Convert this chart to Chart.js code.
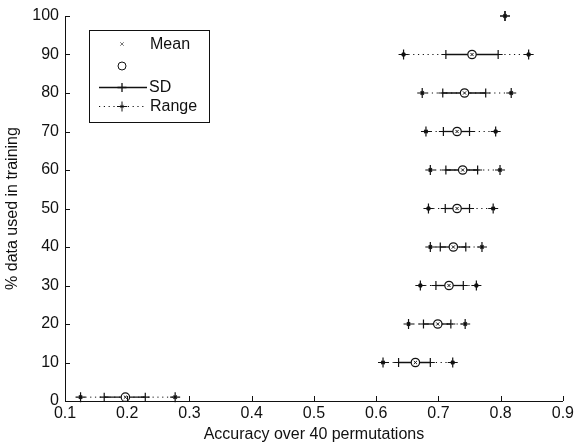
<!DOCTYPE html>
<html>
<head>
<meta charset="utf-8">
<script src="https://cdn.jsdelivr.net/npm/chart.js@4"></script>
<style>
  html, body { margin: 0; padding: 0; background: #fff; }
  #wrap { width: 577px; height: 447px; }
</style>
</head>
<body>
<div id="wrap"><canvas id="permPlot"></canvas></div>
<script>
// % of data used in training (y) and accuracy statistics over 40 permutations (x)
const pctTraining = [1, 10, 20, 30, 40, 50, 60, 70, 80, 90, 100]
const meanAcc  = [0.197, 0.663, 0.699, 0.717, 0.724, 0.730, 0.739, 0.730, 0.742, 0.754, null]
const sdLow    = [0.163, 0.636, 0.676, 0.696, 0.703, 0.711, 0.712, 0.708, 0.707, 0.712, null]
const sdHigh   = [0.229, 0.687, 0.720, 0.740, 0.744, 0.750, 0.763, 0.750, 0.776, 0.796, null]
const rangeMin = [0.125, 0.611, 0.652, 0.671, 0.687, 0.684, 0.687, 0.680, 0.674, 0.644, 0.807]
const rangeMax = [0.277, 0.723, 0.743, 0.761, 0.770, 0.788, 0.799, 0.792, 0.817, 0.845, 0.807]
const xTicks = [0.1, 0.2, 0.3, 0.4, 0.5, 0.6, 0.7, 0.8, 0.9]
const yTicks = [0, 10, 20, 30, 40, 50, 60, 70, 80, 90, 100]

const ink = '#111'
const fontFamily = '"Liberation Sans", Arial, Helvetica, sans-serif'

const datasets = []

// dotted range lines with star-ish ends
pctTraining.forEach((y, i) => {
    datasets.push({
        data: [{x: rangeMin[i], y: y}, {x: rangeMax[i], y: y}],
        borderColor: ink,
        borderWidth: 1,
        borderDash: [1.2, 3.6],
        pointStyle: 'cross',
        pointRadius: 5,
        pointBorderWidth: 1.2,
        pointBorderColor: ink,
        showLine: true,
        clip: false,
        order: 4
    })
})

// small dense x in the middle of the range markers
const rangeEnds = []
pctTraining.forEach((y, i) => {
    rangeEnds.push({x: rangeMin[i], y: y})
    if (rangeMax[i] != rangeMin[i]) rangeEnds.push({x: rangeMax[i], y: y})
})
datasets.push({
    data: rangeEnds,
    pointStyle: 'crossRot',
    pointRadius: 2.3,
    pointBorderWidth: 1.6,
    pointBorderColor: ink,
    showLine: false,
    clip: false,
    order: 3
})

// solid SD lines with + ends
pctTraining.forEach((y, i) => {
    if (meanAcc[i] == null) return
    datasets.push({
        data: [{x: sdLow[i], y: y}, {x: sdHigh[i], y: y}],
        borderColor: ink,
        borderWidth: 1.3,
        pointStyle: 'cross',
        pointRadius: 4.5,
        pointBorderWidth: 1.2,
        pointBorderColor: ink,
        showLine: true,
        clip: false,
        order: 2
    })
})

const meanPoints = pctTraining.map((y, i) => ({x: meanAcc[i], y: y})).filter(p => p.x != null)

datasets.push({
    data: meanPoints,
    pointStyle: 'circle',
    pointRadius: 4.2,
    pointBorderWidth: 1.2,
    pointBorderColor: ink,
    pointBackgroundColor: '#fff',
    showLine: false,
    clip: false,
    order: 1
})
datasets.push({
    data: meanPoints,
    pointStyle: 'crossRot',
    pointRadius: 2.2,
    pointBorderWidth: 1,
    pointBorderColor: ink,
    showLine: false,
    clip: false,
    order: 0
})

// MATLAB style ticks pointing into the plot area
const innerTicks = {
    id: 'innerTicks',
    afterDatasetsDraw(chart) {
        const ctx = chart.ctx
        const {x, y} = chart.scales
        const area = chart.chartArea
        ctx.save()
        ctx.strokeStyle = ink
        ctx.lineWidth = 1
        ctx.beginPath()
        xTicks.forEach(v => {
            const px = Math.round(x.getPixelForValue(v)) + 0.5
            ctx.moveTo(px, area.bottom)
            ctx.lineTo(px, area.bottom - 5)
        })
        yTicks.forEach(v => {
            const py = Math.round(y.getPixelForValue(v)) + 0.5
            ctx.moveTo(area.left, py)
            ctx.lineTo(area.left + 5, py)
        })
        ctx.stroke()
        ctx.restore()
    }
}

// legend box like the matlab one
const matLegend = {
    id: 'matLegend',
    afterDraw(chart) {
        const ctx = chart.ctx
        const drawPoint = Chart.helpers.drawPoint
        ctx.save()
        ctx.fillStyle = '#fff'
        ctx.fillRect(90, 31, 119, 91)
        ctx.strokeStyle = ink
        ctx.lineWidth = 1
        ctx.strokeRect(89.5, 30.5, 120, 92)

        ctx.font = '16px ' + fontFamily
        ctx.fillStyle = ink
        ctx.textBaseline = 'middle'
        const textX = 150
        const midX = 122

        ctx.strokeStyle = '#777'
        drawPoint(ctx, {pointStyle: 'crossRot', radius: 2.5, borderWidth: 1}, midX, 44)
        ctx.fillText('Mean', textX, 45)

        ctx.strokeStyle = ink
        ctx.fillStyle = '#fff'
        drawPoint(ctx, {pointStyle: 'circle', radius: 4, borderWidth: 1.3}, midX, 66)
        ctx.fillStyle = ink

        ctx.lineWidth = 1.3
        ctx.beginPath()
        ctx.moveTo(99, 87.5)
        ctx.lineTo(147, 87.5)
        ctx.stroke()
        drawPoint(ctx, {pointStyle: 'cross', radius: 4.5, borderWidth: 1.2}, midX, 87.5)
        ctx.fillText('SD', textX - 1, 88)

        ctx.lineWidth = 1
        ctx.setLineDash([1.2, 3.6])
        ctx.beginPath()
        ctx.moveTo(99, 106.5)
        ctx.lineTo(147, 106.5)
        ctx.stroke()
        ctx.setLineDash([])
        drawPoint(ctx, {pointStyle: 'cross', radius: 5, borderWidth: 1.2}, midX, 106.5)
        drawPoint(ctx, {pointStyle: 'crossRot', radius: 2.3, borderWidth: 1.6}, midX, 106.5)
        ctx.fillText('Range', textX, 107)
        ctx.restore()
    }
}

new Chart(document.getElementById('permPlot'), {
    type: 'scatter',
    data: { datasets: datasets },
    plugins: [innerTicks, matLegend],
    options: {
        responsive: true,
        maintainAspectRatio: false,
        animation: false,
        layout: { padding: { top: 16, right: 11, left: 0, bottom: 0 } },
        plugins: {
            legend: { display: false },
            tooltip: { enabled: false }
        },
        scales: {
            x: {
                type: 'linear',
                min: 0.1,
                max: 0.9,
                afterBuildTicks: scale => { scale.ticks = xTicks.map(v => ({value: v})) },
                afterFit: scale => { scale.height = 46 },
                ticks: {
                    color: ink,
                    padding: 3,
                    maxRotation: 0,
                    autoSkip: false,
                    font: { family: fontFamily, size: 16 },
                    callback: v => v.toFixed(1)
                },
                grid: { drawOnChartArea: false, drawTicks: false },
                border: { display: true, color: ink, width: 1 },
                title: {
                    display: true,
                    text: 'Accuracy over 40 permutations',
                    color: ink,
                    font: { family: fontFamily, size: 16 },
                    padding: { top: 0, bottom: 3 }
                }
            },
            y: {
                type: 'linear',
                min: 0,
                max: 100,
                afterBuildTicks: scale => { scale.ticks = yTicks.map(v => ({value: v})) },
                afterFit: scale => { scale.width = 65 },
                ticks: {
                    color: ink,
                    padding: 6,
                    autoSkip: false,
                    font: { family: fontFamily, size: 16 }
                },
                grid: { drawOnChartArea: false, drawTicks: false },
                border: { display: true, color: ink, width: 1 },
                title: {
                    display: true,
                    text: '% data used in training',
                    color: ink,
                    font: { family: fontFamily, size: 16 },
                    padding: { top: 3, bottom: 0 }
                }
            }
        }
    }
})
</script>
</body>
</html>
